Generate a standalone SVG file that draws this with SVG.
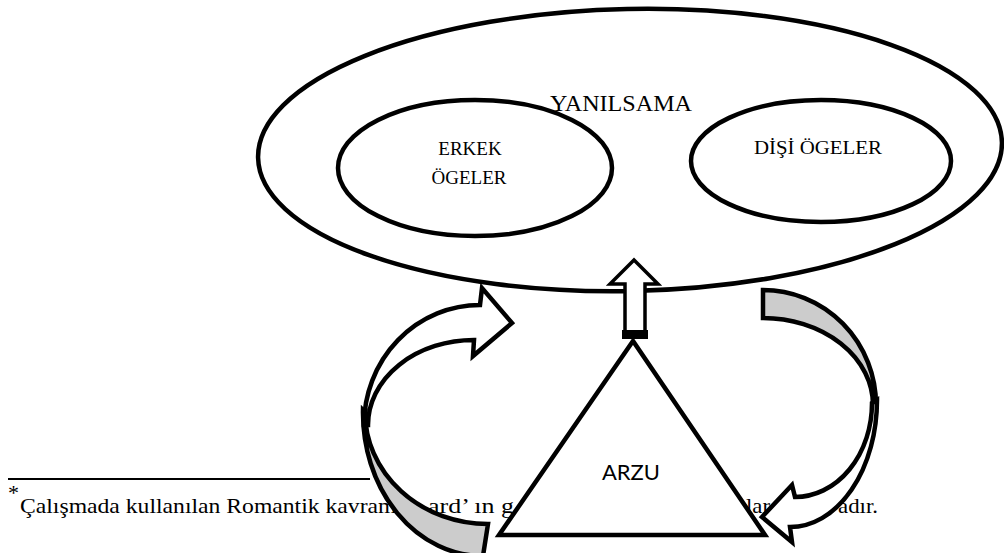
<svg xmlns="http://www.w3.org/2000/svg" width="1004" height="553" viewBox="0 0 1004 553">
  <style>
    .ol { fill: #ffffff; stroke: #000000; stroke-width: 4.5; }
    .ring { fill: none; stroke: #000000; stroke-width: 4.5; }
    .gray { fill: #cccccc; stroke: #000000; stroke-width: 4.5; stroke-linejoin: miter; }
    .wht { fill: #ffffff; stroke: #000000; stroke-width: 4.5; stroke-linejoin: miter; }
    .lbl { font-family: "Liberation Serif", "Times New Roman", serif; fill: #000000; }
    .foot { font-family: "Liberation Serif", "Times New Roman", serif; font-size: 22px; fill: #000000; }
    .sans { font-family: Lato, "Open Sans", "Liberation Sans", sans-serif; fill: #000000; }
  </style>
  <rect x="0" y="0" width="1004" height="553" fill="#ffffff"/>

  <g id="footnote">
    <line x1="8" y1="479" x2="370" y2="479" stroke="#000000" stroke-width="2"/>
    <text class="foot" x="8" y="500" font-size="11">*</text>
    <text class="foot" x="20" y="513" textLength="383" lengthAdjust="spacingAndGlyphs">Çalışmada kullanılan Romantik kavramı</text>
    <text class="foot" x="428" y="513" textLength="86" lengthAdjust="spacingAndGlyphs">ard’ ın g</text>
    <text class="foot" x="746" y="513" textLength="24" lengthAdjust="spacingAndGlyphs">lar</text>
    <text class="foot" x="838" y="513" textLength="40" lengthAdjust="spacingAndGlyphs">adır.</text>
  </g>

  <g id="yanilsama">
    <ellipse class="ol" cx="630" cy="150" rx="372" ry="141" transform="rotate(-1.2 630 150)"/>
    <text class="lbl" x="550" y="111" font-size="24" textLength="142" lengthAdjust="spacingAndGlyphs">YANILSAMA</text>
  </g>

  <g id="erkek">
    <ellipse class="ring" cx="475" cy="168" rx="137" ry="68"/>
    <text class="lbl" x="470" y="155" font-size="19" text-anchor="middle">ERKEK</text>
    <text class="lbl" x="469" y="184" font-size="19" text-anchor="middle">ÖGELER</text>
  </g>

  <g id="disi">
    <ellipse class="ring" cx="821" cy="161" rx="130" ry="61"/>
    <text class="lbl" x="818" y="154" font-size="19" text-anchor="middle" textLength="128" lengthAdjust="spacingAndGlyphs">DİŞİ ÖGELER</text>
  </g>

  <g id="connectors">
    <!-- left curved arrow -->
    <path class="gray" d="M363,410 A120,143 0 0 0 483,556 L488,524 A123,112 0 0 1 365,412 Z"/>
    <path class="wht" d="M480,305 L482,288 L512,323 L473,356 L474,340 A106,85 0 0 0 368,425 L364,425 A116,120 0 0 1 480,305 Z"/>
    <!-- right curved arrow -->
    <path class="gray" d="M763,290 A113,115 0 0 1 876,405 L873,405 A110,87 0 0 0 763,318 Z"/>
    <path class="wht" d="M872,403 A77,94 0 0 1 795,497 L792,485 L762,517 L792,542 L790,527 A87,127 0 0 0 877,400 Z"/>
    <!-- up arrow -->
    <path class="wht" d="M634,260 L658,284 L645,284 L645,333 L625,333 L625,284 L610,284 Z" style="stroke-width:3.5"/>
    <rect x="622" y="330" width="26" height="9" fill="#000000"/>
  </g>

  <g id="arzu">
    <polygon class="wht" points="633,341 499,535 765,535"/>
    <text class="sans" x="631" y="480" font-size="22" text-anchor="middle" textLength="58" lengthAdjust="spacingAndGlyphs">ARZU</text>
  </g>
</svg>
